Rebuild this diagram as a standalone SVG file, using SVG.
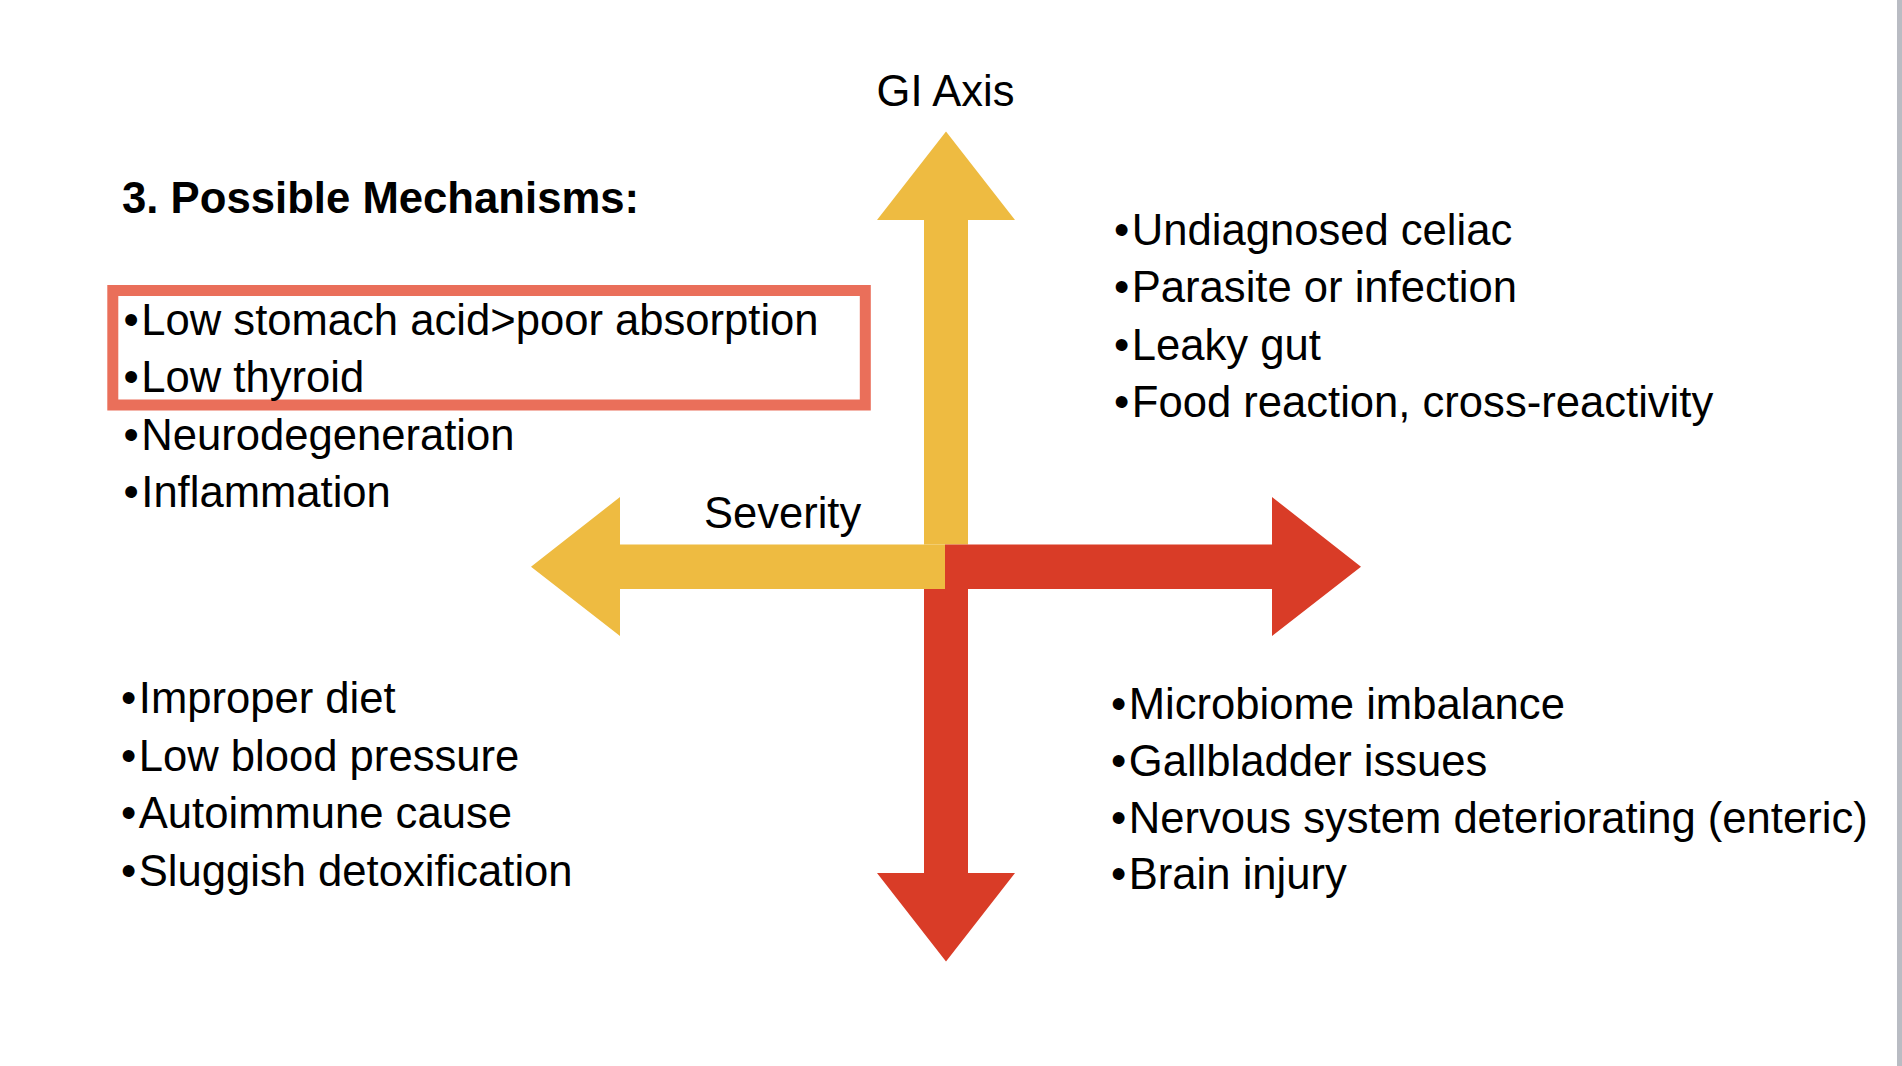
<svg xmlns="http://www.w3.org/2000/svg" width="1902" height="1066" viewBox="0 0 1902 1066">
<style>
  text { font-family: "Liberation Sans", Arial, sans-serif; fill: #000; }
  .item { font-size: 43.6px; }
  .head { font-size: 43.7px; font-weight: bold; }
  .axis { font-size: 43.5px; }
  .yel { fill: #EEBB41; }
  .red { fill: #D93C27; }
</style>
<rect x="0" y="0" width="1902" height="1066" fill="#ffffff"/>
<rect x="1897" y="0" width="5" height="1066" fill="#B9BCC3"/>

<g id="connectors">
  <polygon class="yel" points="946,131.5 1015,220 968,220 968,544.5 924,544.5 924,220 877,220"/>
  <polygon class="yel" points="531,566.75 620,497 620,544.5 945,544.5 945,589 620,589 620,636"/>
  <polygon class="red" points="1361,566.75 1272,497 1272,544.5 945,544.5 945,589 1272,589 1272,636"/>
  <polygon class="red" points="946,961.5 1015,873 968,873 968,589 924,589 924,873 877,873"/>
</g>

<g id="label-gi-axis">
  <text class="axis" x="945.5" y="106" text-anchor="middle">GI Axis</text>
</g>
<g id="label-severity">
  <text class="axis" x="704" y="528">Severity</text>
</g>

<g id="heading">
  <text class="head" x="122" y="213">3. Possible Mechanisms:</text>
</g>

<g id="highlight-box">
  <rect x="112.8" y="290.5" width="752.5" height="114.5" fill="none" stroke="#EA6F5A" stroke-width="11"/>
</g>

<g id="quadrant-top-left">
  <text class="item" x="123.5" y="334.5">•<tspan dx="2.5">Low stomach acid&gt;poor absorption</tspan></text>
  <text class="item" x="123.5" y="392">•<tspan dx="2.5">Low thyroid</tspan></text>
  <text class="item" x="123.5" y="449.5">•<tspan dx="2.5">Neurodegeneration</tspan></text>
  <text class="item" x="123.5" y="507">•<tspan dx="2.5">Inflammation</tspan></text>
</g>

<g id="quadrant-top-right">
  <text class="item" x="1114" y="245">•<tspan dx="2.5">Undiagnosed celiac</tspan></text>
  <text class="item" x="1114" y="302">•<tspan dx="2.5">Parasite or infection</tspan></text>
  <text class="item" x="1114" y="359.5">•<tspan dx="2.5">Leaky gut</tspan></text>
  <text class="item" x="1114" y="417">•<tspan dx="2.5">Food reaction, cross-reactivity</tspan></text>
</g>

<g id="quadrant-bottom-left">
  <text class="item" x="121" y="713">•<tspan dx="2.5">Improper diet</tspan></text>
  <text class="item" x="121" y="770.5">•<tspan dx="2.5">Low blood pressure</tspan></text>
  <text class="item" x="121" y="828">•<tspan dx="2.5">Autoimmune cause</tspan></text>
  <text class="item" x="121" y="885.5">•<tspan dx="2.5">Sluggish detoxification</tspan></text>
</g>

<g id="quadrant-bottom-right">
  <text class="item" x="1111" y="718.5">•<tspan dx="2.5">Microbiome imbalance</tspan></text>
  <text class="item" x="1111" y="775.5">•<tspan dx="2.5">Gallbladder issues</tspan></text>
  <text class="item" x="1111" y="832.5">•<tspan dx="2.5">Nervous system deteriorating (enteric)</tspan></text>
  <text class="item" x="1111" y="889">•<tspan dx="2.5">Brain injury</tspan></text>
</g>
</svg>
